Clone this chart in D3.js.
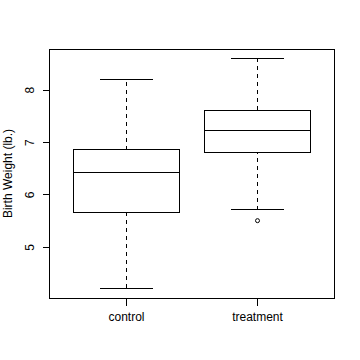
<!DOCTYPE html>
<html>
<head>
<meta charset="utf-8">
<script src="https://cdn.jsdelivr.net/npm/d3@7"></script>
<style>
  body { margin: 0; background: #fff; }
  svg { display: block; font-family: "Liberation Sans", Arial, sans-serif; }
</style>
</head>
<body>
<svg width="360" height="360"></svg>
<script>
// boxplot summary stats
const groups = ['control', 'treatment']
const whiskerLow = [4.21, 5.71]
const q1 = [5.66, 6.81]
const median = [6.41, 7.22]
const q3 = [6.85, 7.61]
const whiskerHigh = [8.20, 8.60]
const outliers = [[], [5.50]]
const yTicks = [5, 6, 7, 8]

const svg = d3.select('svg')
const plotLeft = 49, plotRight = 334, plotTop = 49, plotBottom = 298

// R style: positions 1..n, xlim [0.5, n+0.5] plus 4%
const x = d3.scaleLinear().domain([0.42, 2.58]).range([plotLeft, plotRight])
const y = d3.scaleLinear().domain([4.024, 8.776]).range([plotBottom, plotTop])

const g = svg.append('g')
  .attr('fill', 'none')
  .attr('stroke', '#000')
  .attr('stroke-width', 1)
  .attr('shape-rendering', 'crispEdges')

groups.forEach((name, i) => {
  const cx = Math.round(x(i + 1)) + 0.5
  const halfBox = x(i + 1.4) - x(i + 1)
  const halfStaple = x(i + 1.2) - x(i + 1)

  // dashed whiskers
  g.append('line').attr('x1', cx).attr('x2', cx)
    .attr('y1', y(whiskerLow[i])).attr('y2', y(q1[i]))
    .attr('stroke-dasharray', '4,4')
  g.append('line').attr('x1', cx).attr('x2', cx)
    .attr('y1', y(q3[i])).attr('y2', y(whiskerHigh[i]))
    .attr('stroke-dasharray', '4,4')

  // staples
  ;[whiskerLow[i], whiskerHigh[i]].forEach(v => {
    g.append('line').attr('x1', cx - halfStaple).attr('x2', cx + halfStaple)
      .attr('y1', y(v)).attr('y2', y(v))
  })

  // box and median
  g.append('rect')
    .attr('x', cx - halfBox).attr('width', 2 * halfBox)
    .attr('y', y(q3[i])).attr('height', y(q1[i]) - y(q3[i]))
    .attr('fill', '#fff')
  g.append('line').attr('x1', cx - halfBox).attr('x2', cx + halfBox)
    .attr('y1', y(median[i])).attr('y2', y(median[i]))

  outliers[i].forEach(v => {
    g.append('circle').attr('cx', cx).attr('cy', y(v)).attr('r', 2)
      .attr('shape-rendering', 'auto')
  })
})

// frame
g.append('rect')
  .attr('x', plotLeft + 0.5).attr('y', plotTop + 0.5)
  .attr('width', plotRight - plotLeft).attr('height', plotBottom - plotTop)

// y axis
const yAxis = svg.append('g')
  .attr('transform', `translate(${plotLeft + 0.5},0)`)
  .call(d3.axisLeft(y).tickValues(yTicks).tickSize(7).tickFormat(d3.format('d')))
yAxis.select('.domain').remove()
yAxis.selectAll('line').attr('shape-rendering', 'crispEdges')
yAxis.selectAll('text')
  .attr('font-size', 12).attr('font-family', '"Liberation Sans", Arial, sans-serif')
  .attr('text-anchor', 'middle').attr('dy', null)
  .attr('x', 0).attr('y', 0)
  .attr('transform', 'translate(-16,0) rotate(-90)')

// x axis
const xAxis = svg.append('g')
  .attr('transform', `translate(0,${plotBottom + 0.5})`)
  .call(d3.axisBottom(x).tickValues([1, 2]).tickSize(7).tickPadding(7)
    .tickFormat(d => groups[d - 1]))
xAxis.select('.domain').remove()
xAxis.selectAll('.tick').attr('transform', d => `translate(${Math.round(x(d)) + 0.5},0)`)
xAxis.selectAll('line').attr('shape-rendering', 'crispEdges')
xAxis.selectAll('text')
  .attr('font-size', 12).attr('font-family', '"Liberation Sans", Arial, sans-serif')

// y label
svg.append('text')
  .attr('transform', `translate(12,${(plotTop + plotBottom) / 2}) rotate(-90)`)
  .attr('text-anchor', 'middle')
  .attr('font-size', 12)
  .text('Birth Weight (lb.)')
</script>
</body>
</html>
